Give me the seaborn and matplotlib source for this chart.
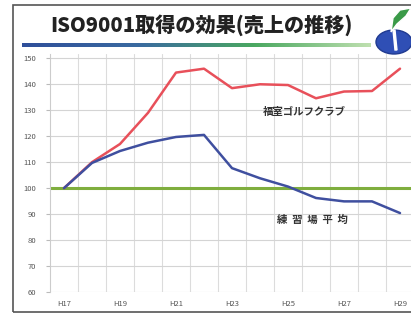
import numpy as np
import pandas as pd
import matplotlib.pyplot as plt
from matplotlib.patches import Rectangle, Ellipse, Polygon
from matplotlib.colors import LinearSegmentedColormap
import seaborn as sns

years = [17, 18, 19, 20, 21, 22, 23, 24, 25, 26, 27, 28, 29]
club = [100, 110, 117, 129, 144.5, 146, 138.5, 140, 139.7, 134.6, 137.2, 137.4, 146]
avg = [100, 109.7, 114.3, 117.5, 119.7, 120.5, 107.7, 103.8, 100.6, 96.2, 94.9, 94.9, 90.4]
baseline = 100
tick_years = [17, 19, 21, 23, 25, 27, 29]
tick_labels = ['H17', 'H19', 'H21', 'H23', 'H25', 'H27', 'H29']
club_name = '福室ゴルフクラブ'
avg_name = '練  習  場  平  均'
title = 'ISO9001取得の効果(売上の推移)'

sns.set_style('white')
plt.rcParams['font.family'] = ['Noto Sans CJK JP', 'DejaVu Sans']

df = pd.DataFrame({'year': years * 2,
                   'value': club + avg,
                   'series': [club_name] * len(years) + [avg_name] * len(years)})

W, H = 411, 314
fig = plt.figure(figsize=(W / 100, H / 100), dpi=100)

# outer frame
fig.patches.append(Rectangle((13 / W, 1 - 312 / H), 1.2, (312 - 5) / H,
                             transform=fig.transFigure, fill=False,
                             edgecolor='#555555', linewidth=1.2))

ax = fig.add_axes([50 / W, 22 / H, (W - 50) / W, (292 - 54.4) / H])
sns.lineplot(data=df, x='year', y='value', hue='series',
             palette={club_name: '#e8505a', avg_name: '#3f4f9f'},
             linewidth=1.8, legend=False, ax=ax, zorder=3)
ax.axhline(baseline, color='#7fae3e', linewidth=2.2, zorder=2)

ax.set_xlim(16.5, 16.5 + (W - 50) / 28)
ax.set_ylim(60, 151.5)
ax.set_xticks(tick_years)
ax.set_xticklabels(tick_labels)
ax.set_xticks(np.arange(17.5, 29.5, 1), minor=True)
ax.set_yticks(np.arange(60, 151, 10))
ax.grid(axis='y', which='major', color='#d4d4d4', linewidth=0.8)
ax.grid(axis='x', which='minor', color='#dcdcdc', linewidth=0.8)
ax.tick_params(axis='x', which='major', length=0, pad=6, labelsize=5.5, labelcolor='#555555')
ax.tick_params(axis='x', which='minor', length=0)
ax.tick_params(axis='y', length=3, color='#bbbbbb', pad=7, labelsize=5.5, labelcolor='#555555', left=True)
ax.set_xlabel('')
ax.set_ylabel('')
for s in ['top', 'right', 'bottom']:
    ax.spines[s].set_visible(False)
ax.spines['left'].set_color('#cccccc')
ax.spines['left'].set_linewidth(0.8)

ax.text(25.6, 129.3, club_name, ha='center', va='center', fontsize=7.5,
        fontweight='bold', color='#333333')
ax.text(25.86, 87.8, avg_name, ha='center', va='center', fontsize=7.5,
        fontweight='bold', color='#333333')

# title and underline
fig.text(50 / W, 1 - 25 / H, title, ha='left', va='center', fontsize=14.5,
         fontweight='heavy', color='#222222')
grad = fig.add_axes([22 / W, 1 - 47 / H, (370 - 22) / W, 4 / H])
cmap = LinearSegmentedColormap.from_list('ul', ['#2f4f9a', '#3a6aa0', '#4aa860', '#bfe0b0'])
grad.imshow(np.linspace(0, 1, 256)[None, :], aspect='auto', cmap=cmap)
grad.axis('off')

# logo
fig.patches.append(Ellipse((394 / W, 1 - 42 / H), 36 / W, 24 / H,
                           transform=fig.transFigure, facecolor='#2f4fb5',
                           edgecolor='#203a90', zorder=5))
fig.patches.append(Polygon([(391 / W, 1 - 32 / H), (393 / W, 1 - 18 / H),
                            (400 / W, 1 - 10 / H), (411 / W, 1 - 8 / H),
                            (406 / W, 1 - 16 / H), (397 / W, 1 - 24 / H)],
                           closed=True, transform=fig.transFigure,
                           facecolor='#3a9a48', zorder=6))
fig.patches.append(Polygon([(393 / W, 1 - 30 / H), (395 / W, 1 - 30 / H),
                            (397 / W, 1 - 50 / H), (395 / W, 1 - 50 / H)],
                           closed=True, transform=fig.transFigure,
                           facecolor='white', zorder=6))

fig.savefig('out.png', dpi=100)
